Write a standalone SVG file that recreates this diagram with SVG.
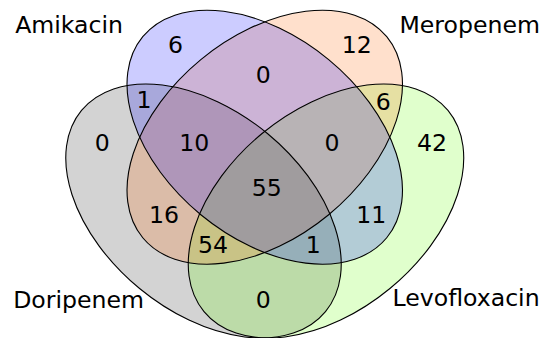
<svg xmlns="http://www.w3.org/2000/svg" width="542" height="338" viewBox="0 0 542 338">
<style>
  .fill { stroke: none; fill-opacity: 0.2; }
  .edge { fill: none; stroke: #000; stroke-width: 1.1; }
  text { font-family: "DejaVu Sans", "Liberation Sans", sans-serif; font-size: 23.6px; fill: #000; }
  .num { text-anchor: middle; }
</style>
<rect width="542" height="338" fill="#fff"/>
<g id="fills">
  <ellipse class="fill" fill="#232323" cx="203.5" cy="211" rx="158.1" ry="100.5" transform="rotate(39.5 203.5 211)"/>
  <ellipse class="fill" fill="#64ff00" cx="326" cy="211" rx="158.1" ry="100.5" transform="rotate(-39.5 326 211)"/>
  <ellipse class="fill" fill="#ff6400" cx="264.75" cy="137.2" rx="158.1" ry="100.5" transform="rotate(-39.5 264.75 137.2)"/>
  <ellipse class="fill" fill="#0000ff" cx="264.75" cy="137.2" rx="158.1" ry="100.5" transform="rotate(39.5 264.75 137.2)"/>
</g>
<g id="Doripenem">
  <ellipse class="edge" cx="203.5" cy="211" rx="158.1" ry="100.5" transform="rotate(39.5 203.5 211)"/>
  <text x="144" y="308.3" text-anchor="end">Doripenem</text>
</g>
<g id="Levofloxacin">
  <ellipse class="edge" cx="326" cy="211" rx="158.1" ry="100.5" transform="rotate(-39.5 326 211)"/>
  <text x="392.5" y="306">Levofloxacin</text>
</g>
<g id="Meropenem">
  <ellipse class="edge" cx="264.75" cy="137.2" rx="158.1" ry="100.5" transform="rotate(-39.5 264.75 137.2)"/>
  <text x="399.5" y="33.3">Meropenem</text>
</g>
<g id="Amikacin">
  <ellipse class="edge" cx="264.75" cy="137.2" rx="158.1" ry="100.5" transform="rotate(39.5 264.75 137.2)"/>
  <text x="123" y="33.3" text-anchor="end">Amikacin</text>
</g>
<g id="counts" class="num">
  <text class="num" x="175.5" y="53.3">6</text>
  <text class="num" x="356.7" y="53.3">12</text>
  <text class="num" x="263.3" y="83.3">0</text>
  <text class="num" x="144" y="108.3">1</text>
  <text class="num" x="383.3" y="110">6</text>
  <text class="num" x="102.3" y="151">0</text>
  <text class="num" x="194.3" y="150.7">10</text>
  <text class="num" x="332" y="150.7">0</text>
  <text class="num" x="432" y="151">42</text>
  <text class="num" x="266.7" y="196">55</text>
  <text class="num" x="164" y="223.3">16</text>
  <text class="num" x="371.3" y="223.3">11</text>
  <text class="num" x="213" y="253.3">54</text>
  <text class="num" x="313.3" y="253.3">1</text>
  <text class="num" x="263.3" y="308.3">0</text>
</g>
</svg>
